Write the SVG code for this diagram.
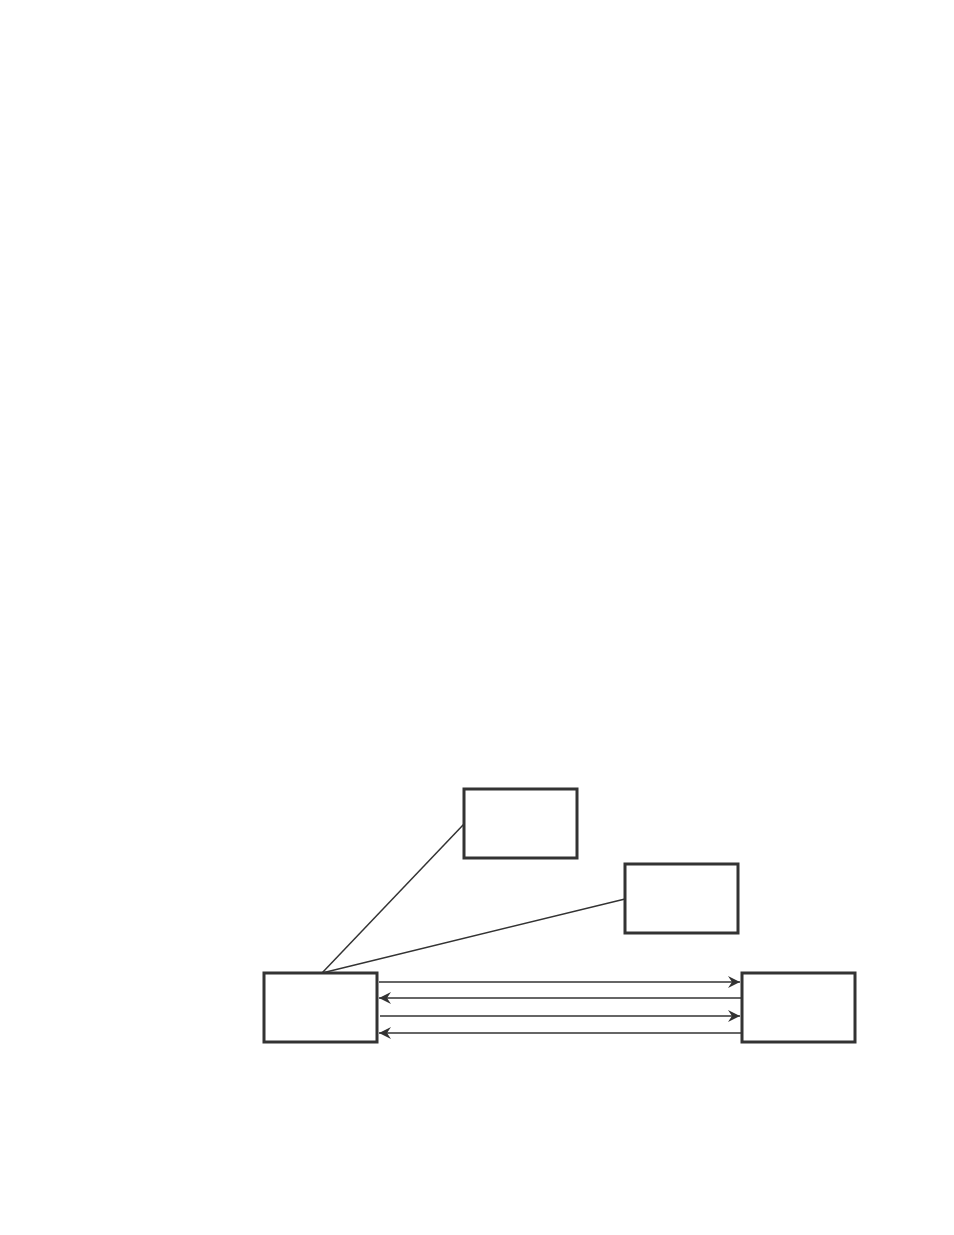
<svg xmlns="http://www.w3.org/2000/svg" width="954" height="1235" viewBox="0 0 954 1235">
<style>
.box{fill:#fff;stroke:#333;stroke-width:3}
.ln{stroke:#333;stroke-width:1.5;fill:none}
</style>
<defs>
<marker id="ah" markerWidth="13" markerHeight="13" refX="12" refY="6" orient="auto" markerUnits="userSpaceOnUse">
<path d="M0,0 L12,6 L0,12 L4,6 Z" fill="#333"/>
</marker>
</defs>
<rect width="954" height="1235" fill="#fff"/>
<g id="connectors">
<line class="ln" x1="322" y1="973" x2="464" y2="824"/>
<line class="ln" x1="322" y1="973" x2="625" y2="899"/>
<line class="ln" x1="379" y1="982" x2="740" y2="982" marker-end="url(#ah)"/>
<line class="ln" x1="741" y1="998" x2="379" y2="998" marker-end="url(#ah)"/>
<line class="ln" x1="380" y1="1016" x2="740" y2="1016" marker-end="url(#ah)"/>
<line class="ln" x1="741" y1="1033" x2="379" y2="1033" marker-end="url(#ah)"/>
</g>
<g id="node-top"><rect class="box" x="464" y="789" width="113" height="69"/></g>
<g id="node-mid"><rect class="box" x="625" y="864" width="113" height="69"/></g>
<g id="node-left"><rect class="box" x="264" y="973" width="113" height="69"/></g>
<g id="node-right"><rect class="box" x="742" y="973" width="113" height="69"/></g>
</svg>
